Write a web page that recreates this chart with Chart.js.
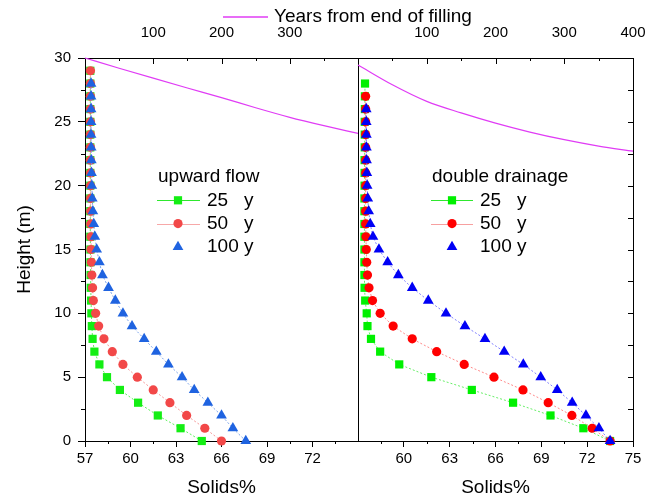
<!DOCTYPE html>
<html>
<head>
<meta charset="utf-8">
<title>Solids profiles</title>
<script src="https://cdn.jsdelivr.net/npm/chart.js@4.4.1/dist/chart.umd.min.js"></script>
<style>
  body { margin: 0; background: #fff; }
  #wrap { position: relative; width: 658px; height: 500px; }
  #wrap canvas { position: absolute; left: 0; top: 0; }
</style>
</head>
<body>
<div id="wrap">
  <canvas id="leftChart" width="658" height="500"></canvas>
  <canvas id="rightChart" width="658" height="500"></canvas>
</div>
<script>
// height above base (m), one marker per metre
const heights = [0, 1, 2, 3, 4, 5, 6, 7, 8, 9, 10, 11, 12, 13, 14, 15, 16, 17, 18, 19,
                 20, 21, 22, 23, 24, 25, 26, 27, 28, 29];
const seriesNames = ['25', '50', '100'];
const seriesUnit = 'y';

// upward flow, solids % at each height
const upward25 = [64.7, 63.3, 61.8, 60.5, 59.3, 58.45, 57.95, 57.62, 57.5, 57.45, 57.42, 57.4, 57.38, 57.37, 57.36,
                  57.36, 57.35, 57.35, 57.35, 57.35, 57.35, 57.35, 57.35, 57.35, 57.35, 57.35, 57.35, 57.35, 57.35, 57.35];
const upward50 = [66.0, 64.9, 63.7, 62.6, 61.5, 60.45, 59.5, 58.8, 58.25, 57.9, 57.7, 57.55, 57.5, 57.45, 57.42,
                  57.4, 57.4, 57.38, 57.38, 57.37, 57.37, 57.37, 57.36, 57.36, 57.36, 57.36, 57.36, 57.36, 57.36, 57.36];
const upward100 = [67.6, 66.75, 66.0, 65.1, 64.2, 63.4, 62.5, 61.7, 60.9, 60.1, 59.5, 59.0, 58.55, 58.15, 57.95,
                   57.77, 57.65, 57.58, 57.52, 57.48, 57.45, 57.43, 57.42, 57.41, 57.4, 57.4, 57.4, 57.4, 57.4];

// double drainage
const drain25 = [73.5, 71.75, 69.6, 67.15, 64.45, 61.8, 59.7, 58.45, 57.85, 57.62, 57.57, 57.47, 57.43, 57.42, 57.42,
                 57.42, 57.42, 57.42, 57.42, 57.42, 57.43, 57.43, 57.43, 57.44, 57.44, 57.44, 57.45, 57.45, 57.46];
const drain50 = [73.5, 72.33, 71.0, 69.45, 67.8, 65.9, 63.95, 62.15, 60.55, 59.3, 58.45, 57.95, 57.72, 57.62, 57.57,
                 57.54, 57.52, 57.5, 57.5, 57.5, 57.5, 57.5, 57.5, 57.5, 57.5, 57.5, 57.5, 57.5];
const drain100 = [73.5, 72.77, 71.92, 71.02, 70.04, 68.96, 67.82, 66.57, 65.31, 64.0, 62.76, 61.6, 60.55, 59.64, 58.94,
                  58.37, 57.98, 57.8, 57.7, 57.64, 57.6, 57.58, 57.56, 57.55, 57.55, 57.54, 57.54];

// surface height vs years from end of filling (top axis)
const fillYears = [0, 50, 100, 150, 200, 250, 300, 350, 400];
const surfaceUpward = [30, 29.2, 28.42, 27.65, 26.9, 26.1, 25.35, 24.7, 24.1];
const surfaceDrain = [29.45, 27.9, 26.6, 25.7, 24.9, 24.2, 23.6, 23.1, 22.7];

const FONT = "'Liberation Sans', Arial, sans-serif";
const MAGENTA = '#e03cf5';
Chart.defaults.font.family = FONT;
Chart.defaults.font.size = 15;
Chart.defaults.color = '#000';

function points(values) {
    return values.map((v, i) => ({ x: v, y: heights[i] }));
}

function curve(depths) {
    return fillYears.map((t, i) => ({ x: t, y: depths[i] }));
}

function solidsSet(idx, values, marker, fill, line, legendLine, radius) {
    return {
        label: seriesNames[idx],
        data: points(values),
        legendRow: idx,
        legendLine: legendLine,
        order: 3 - idx,
        pointStyle: marker,
        pointRadius: radius,
        pointBackgroundColor: fill,
        pointBorderColor: fill,
        pointBorderWidth: 0,
        borderColor: line,
        borderWidth: 1,
        borderDash: [2, 2],
        showLine: true,
        clip: false
    };
}

function surfaceSet(depths) {
    return {
        label: 'Years from end of filling',
        data: curve(depths),
        xAxisID: 'x2',
        order: 4,
        borderColor: MAGENTA,
        borderWidth: 1.2,
        pointRadius: 0,
        cubicInterpolationMode: 'monotone',
        showLine: true,
        clip: false
    };
}

const minorX = [58.5, 61.5, 64.5, 67.5, 70.5, 73.5];
const minorY = [2.5, 7.5, 12.5, 17.5, 22.5, 27.5];
const yearMinor = [50, 150, 250, 350];
const yearMajor = [100, 200, 300, 400];
const rightEdge = [2.5, 5, 7.5, 10, 12.5, 15, 17.5, 20, 22.5, 25, 27.5];

// box round the plot area plus the extra (minor / inward) tick marks
const frameTicks = {
    id: 'frameTicks',
    beforeDatasetsDraw(chart, args, opts) {
        const ctx = chart.ctx;
        const a = chart.chartArea;
        const px = v => Math.round(v) + 0.5;
        ctx.save();
        ctx.strokeStyle = '#000';
        ctx.lineWidth = 1;
        ctx.strokeRect(px(a.left), px(a.top), Math.round(a.right) - Math.round(a.left), Math.round(a.bottom) - Math.round(a.top));
        ctx.beginPath();
        (opts.marks || []).forEach(m => {
            const scale = chart.scales[m.axis];
            const s = m.inward ? -1 : 1;
            m.values.forEach(v => {
                const p = px(scale.getPixelForValue(v));
                if (m.edge === 'bottom') { ctx.moveTo(p, a.bottom); ctx.lineTo(p, a.bottom + s * m.len); }
                else if (m.edge === 'top') { ctx.moveTo(p, a.top); ctx.lineTo(p, a.top - s * m.len); }
                else if (m.edge === 'left') { ctx.moveTo(a.left, p); ctx.lineTo(a.left - s * m.len, p); }
                else { ctx.moveTo(a.right, p); ctx.lineTo(a.right + s * m.len, p); }
            });
        });
        ctx.stroke();
        ctx.restore();
    }
};

const panelLegend = {
    id: 'panelLegend',
    afterDraw(chart, args, o) {
        const ctx = chart.ctx;
        ctx.save();
        ctx.font = o.fontSize + 'px ' + FONT;
        ctx.fillStyle = '#000';
        ctx.textBaseline = 'middle';
        ctx.fillText(o.title, o.x, o.y);
        chart.data.datasets.forEach(d => {
            if (d.legendRow === undefined) return;
            const y = o.y + o.rowGap * (d.legendRow + 1);
            if (d.legendLine) {
                ctx.strokeStyle = d.legendLine;
                ctx.lineWidth = 1;
                ctx.beginPath();
                ctx.moveTo(o.lineX0, Math.round(y) + 0.5);
                ctx.lineTo(o.lineX1, Math.round(y) + 0.5);
                ctx.stroke();
            }
            ctx.fillStyle = d.pointBackgroundColor;
            Chart.helpers.drawPoint(ctx, { pointStyle: d.pointStyle, radius: d.pointRadius, rotation: 0, borderWidth: 0 },
                o.markX, y);
            ctx.fillStyle = '#000';
            ctx.fillText(d.label, o.textX, y);
            ctx.fillText(seriesUnit, o.textX + o.unitDx, y);
        });
        if (o.top) {
            const t = o.top;
            ctx.strokeStyle = MAGENTA;
            ctx.lineWidth = 1.5;
            ctx.beginPath();
            ctx.moveTo(t.x0, t.y);
            ctx.lineTo(t.x1, t.y);
            ctx.stroke();
            ctx.fillStyle = '#000';
            ctx.fillText(chart.data.datasets[t.dataset].label, t.textX, t.y);
        }
        ctx.restore();
    }
};

function panelScales(left) {
    const y = {
        type: 'linear', position: 'left', min: 0, max: 30, display: left,
        ticks: { stepSize: 5, padding: 7 },
        grid: { drawOnChartArea: false, tickLength: 7, tickColor: '#000' },
        border: { display: false },
        title: { display: true, text: 'Height (m)', font: { size: 19 }, padding: { top: 13, bottom: 0 } }
    };
    if (left) y.afterFit = s => { s.width = 85; };
    return {
        x: {
            type: 'linear', position: 'bottom', min: 57, max: 75,
            ticks: { stepSize: 3, padding: 3 },
            afterBuildTicks: s => { s.ticks = s.ticks.filter(t => t.value !== (left ? 75 : 57)); },
            grid: { drawOnChartArea: false, tickLength: 6, tickColor: '#000' },
            border: { display: false },
            title: { display: true, text: 'Solids%', font: { size: 19 }, padding: { top: 0, bottom: 1 } },
            afterFit: s => { s.height = 59; }
        },
        x2: {
            type: 'linear', position: 'top', min: 0, max: 400,
            ticks: { stepSize: 100, padding: 8 },
            afterBuildTicks: s => { s.ticks = s.ticks.filter(t => t.value > 0 && (!left || t.value < 400)); },
            grid: { display: false },
            border: { display: false },
            afterFit: s => { s.height = 58; }
        },
        y: y
    };
}

new Chart(document.getElementById('leftChart'), {
    type: 'scatter',
    data: {
        datasets: [
            solidsSet(0, upward25, 'rect', '#14ee14', '#5cf05c', '#2ee82e', 5.8),
            solidsSet(1, upward50, 'circle', '#f24848', '#f59a9a', '#f7a8a8', 4.6),
            solidsSet(2, upward100, 'triangle', '#1f63e0', '#7ba3ea', null, 6.2),
            surfaceSet(surfaceUpward)
        ]
    },
    options: {
        responsive: false,
        animation: false,
        events: [],
        layout: { padding: { left: 0, right: 300, top: 0, bottom: 0 } },
        scales: panelScales(true),
        plugins: {
            legend: { display: false },
            tooltip: { enabled: false },
            frameTicks: {
                marks: [
                    { axis: 'x', edge: 'bottom', values: minorX, len: 3 },
                    { axis: 'y', edge: 'left', values: minorY, len: 4 },
                    { axis: 'x2', edge: 'top', values: yearMinor, len: 3, inward: true },
                    { axis: 'x2', edge: 'top', values: yearMajor.slice(0, 3), len: 6, inward: true }
                ]
            },
            panelLegend: {
                title: 'upward flow', x: 158, y: 177, rowGap: 23.3, fontSize: 19,
                lineX0: 157, lineX1: 200, markX: 178, textX: 207, unitDx: 37,
                top: { dataset: 3, x0: 223, x1: 268, y: 17, textX: 274 }
            }
        }
    },
    plugins: [frameTicks, panelLegend]
});

new Chart(document.getElementById('rightChart'), {
    type: 'scatter',
    data: {
        datasets: [
            solidsSet(0, drain25, 'rect', '#00f000', '#66ee66', '#2ee82e', 5.8),
            solidsSet(1, drain50, 'circle', '#ff0000', '#ff8a8a', '#f7a0a0', 4.6),
            solidsSet(2, drain100, 'triangle', '#0000f5', '#8080ff', null, 6.2),
            surfaceSet(surfaceDrain)
        ]
    },
    options: {
        responsive: false,
        animation: false,
        events: [],
        layout: { padding: { left: 358, right: 25, top: 0, bottom: 0 } },
        scales: panelScales(false),
        plugins: {
            legend: { display: false },
            tooltip: { enabled: false },
            frameTicks: {
                marks: [
                    { axis: 'x', edge: 'bottom', values: minorX, len: 3 },
                    { axis: 'y', edge: 'right', values: rightEdge, len: 5, inward: true },
                    { axis: 'x2', edge: 'top', values: yearMinor, len: 3, inward: true },
                    { axis: 'x2', edge: 'top', values: yearMajor, len: 6, inward: true }
                ]
            },
            panelLegend: {
                title: 'double drainage', x: 432, y: 177, rowGap: 23.3, fontSize: 19,
                lineX0: 431, lineX1: 473, markX: 452, textX: 480, unitDx: 37
            }
        }
    },
    plugins: [frameTicks, panelLegend]
});
</script>
</body>
</html>
